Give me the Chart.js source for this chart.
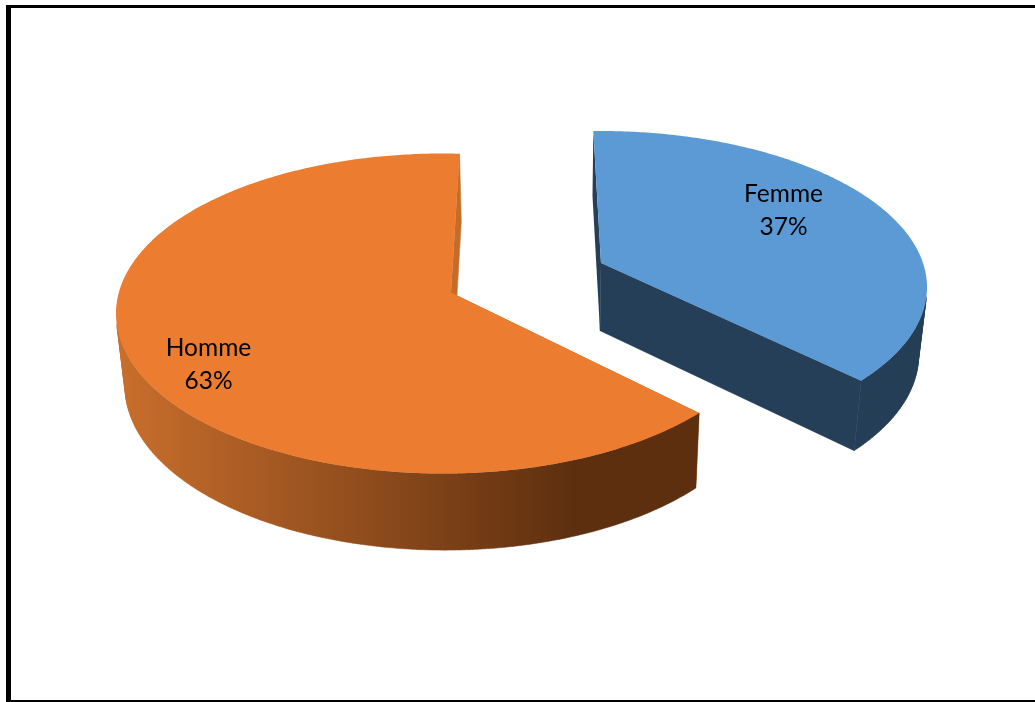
<!DOCTYPE html>
<html lang="fr">
<head>
<meta charset="utf-8">
<title>Répartition par sexe</title>
<script src="https://cdn.jsdelivr.net/npm/chart.js@4"></script>
<style>
  html, body { margin: 0; padding: 0; background: #fff; overflow: hidden; width: 1035px; height: 702px; }
  canvas { position: absolute; left: 0; top: 0; }
  #frame {
    position: absolute; left: 6px; top: 5px; width: 1100px; height: 697px; box-sizing: border-box;
    border-left: 5px solid #000; border-top: 3px solid #000; border-bottom: 2px solid #000;
    pointer-events: none;
  }
</style>
</head>
<body>
<canvas id="pie" width="1035" height="702"></canvas>
<div id="frame"></div>
<script>
// Survey breakdown by sex
const categories = ['Femme', 'Homme'];
const shares = [37, 63];
const topColours = ['#5B9AD5', '#EB7C30'];
const edgeColours = ['#243F57', '#C56C28'];

// Perspective of each exploded slice: the rim ellipse, the projected pie centre,
// an angular correction that may drift along the arc, and how the lower rim sits
// under the upper one.
const views = [
  { cx: 603, cy: 286, rx: 324, ry: 155, ax: 601, ay: 263, turn: -1.6, turnDrift: 0.8, skewY: 0.004,
    vx: 557, shrink: 0.977, depth: 65, depthSlope: 0.02, depthFrom: 131,
    labelR: 0.6, nudgeX: 14, nudgeY: -16 },
  { cx: 443, cy: 313.5, rx: 327, ry: 160, ax: 451, ay: 292.5, turn: 1.8, turnDrift: 0, skewY: 0,
    vx: 544, shrink: 0.979, depth: 68, depthSlope: 0.027, depthFrom: 154,
    labelR: 0.75, nudgeX: -4, nudgeY: 26 }
];

// Wall shading runs left to right across the larger slice
function wallFill(ctx, index) {
  if (index === 0) return edgeColours[0];
  const g = ctx.createLinearGradient(120, 0, 700, 0);
  g.addColorStop(0, '#C96E2C');
  g.addColorStop(0.78, '#5E2F0F');
  g.addColorStop(1, '#5E2F0F');
  return g;
}

// Boost of the unit disc: keeps the rim on an ellipse while moving its centre
function project(view, theta, r, arcStart) {
  const drift = view.turnDrift * (theta - arcStart);
  const t = theta + (view.turn + drift) * Math.PI / 180;
  const px = r * Math.sin(t), py = -r * Math.cos(t);
  const ex = (view.ax - view.cx) / view.rx, ey = (view.ay - view.cy) / view.ry;
  const e2 = ex * ex + ey * ey;
  const dot = ex * px + ey * py;
  const parX = dot / e2 * ex, parY = dot / e2 * ey;
  const g = Math.sqrt(1 - e2);
  const d = 1 + dot;
  const qx = (ex + parX + g * (px - parX)) / d;
  const qy = (ey + parY + g * (py - parY)) / d;
  return {
    x: view.cx + view.rx * qx,
    y: view.cy + view.ry * qy + view.skewY * view.rx * qx
  };
}

function lower(view, p) {
  return {
    x: view.vx + (p.x - view.vx) * view.shrink,
    y: p.y + view.depth + view.depthSlope * (p.y - view.depthFrom)
  };
}

function polygon(ctx, pts) {
  ctx.beginPath();
  pts.forEach((p, i) => i ? ctx.lineTo(p.x, p.y) : ctx.moveTo(p.x, p.y));
  ctx.closePath();
}

// Appends a wall quad to the current path when it faces the viewer; quads on the
// far side of the rim wind the other way round and stay out of the path
function addFrontQuad(ctx, q) {
  let area = 0;
  q.forEach((p, i) => {
    const n = q[(i + 1) % q.length];
    area += p.x * n.y - n.x * p.y;
  });
  if (area >= 0) return;
  q.forEach((p, i) => i ? ctx.lineTo(p.x, p.y) : ctx.moveTo(p.x, p.y));
  ctx.closePath();
}

const solidPie = {
  id: 'solidPie',
  beforeDatasetDraw(chart, args) {
    const ctx = chart.ctx;
    const arcs = chart.getDatasetMeta(args.index).data;
    arcs.forEach((arc, i) => {
      const view = views[i];
      // Chart.js angles start at three o'clock; the disc model starts at twelve
      const from = arc.startAngle + Math.PI / 2;
      const to = arc.endAngle + Math.PI / 2;
      const steps = Math.ceil((to - from) * 90);
      const rim = [];
      for (let s = 0; s <= steps; s++) rim.push(project(view, from + (to - from) * s / steps, 1, from));
      const apex = project(view, 0, 0, 0);
      const first = rim[0], last = rim[rim.length - 1];
      ctx.save();
      ctx.lineWidth = 0.5;

      // Opening radial face, below the wall
      ctx.fillStyle = edgeColours[i];
      polygon(ctx, [apex, first, lower(view, first), lower(view, apex)]);
      ctx.fill();

      // Outer wall: every quad goes into one path and is filled once, which leaves no seams
      const wall = wallFill(ctx, i);
      ctx.fillStyle = wall;
      ctx.strokeStyle = wall;
      ctx.beginPath();
      for (let s = 0; s < steps; s++) {
        addFrontQuad(ctx, [rim[s], rim[s + 1], lower(view, rim[s + 1]), lower(view, rim[s])]);
      }
      ctx.fill();
      ctx.stroke();

      // Closing radial face, above the wall
      ctx.fillStyle = edgeColours[i];
      ctx.strokeStyle = edgeColours[i];
      polygon(ctx, [apex, last, lower(view, last), lower(view, apex)]);
      ctx.fill();
      ctx.stroke();

      // Top surface
      ctx.fillStyle = topColours[i];
      polygon(ctx, [apex, ...rim]);
      ctx.fill();
      ctx.restore();
    });

    // Category and share printed on each top surface
    ctx.save();
    ctx.fillStyle = '#000';
    ctx.textAlign = 'center';
    ctx.textBaseline = 'middle';
    ctx.font = '24.5px Lato';
    const total = shares.reduce((a, b) => a + b, 0);
    arcs.forEach((arc, i) => {
      const view = views[i];
      const mid = (arc.startAngle + arc.endAngle) / 2 + Math.PI / 2;
      const at = project(view, mid, view.labelR, mid);
      const x = at.x + view.nudgeX, y = at.y + view.nudgeY;
      ctx.fillText(categories[i], x, y - 16.5);
      ctx.fillText(Math.round(shares[i] / total * 100) + '%', x, y + 16.5);
    });
    ctx.restore();
    return false;
  }
};

new Chart(document.getElementById('pie'), {
  type: 'pie',
  data: {
    labels: categories,
    datasets: [{ data: shares, backgroundColor: topColours, borderWidth: 0 }]
  },
  options: {
    responsive: false,
    animation: false,
    plugins: { legend: { display: false }, tooltip: { enabled: false } }
  },
  plugins: [solidPie]
});
</script>
</body>
</html>
